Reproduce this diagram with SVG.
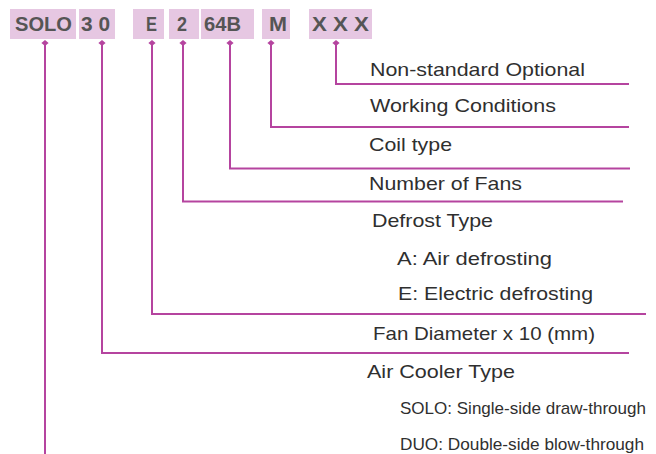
<svg xmlns="http://www.w3.org/2000/svg" width="656" height="454" viewBox="0 0 656 454">
  <defs>
    <style>
      .box { fill: #e6c7e2; }
      .code { font-family: "Liberation Sans", Arial, sans-serif; font-weight: bold; font-size: 20px; fill: #555555; }
      .lbl { font-family: "Liberation Sans", Arial, sans-serif; font-size: 19px; fill: #2f2f2f; }
      .sub { font-family: "Liberation Sans", Arial, sans-serif; font-size: 17px; fill: #2f2f2f; }
      .conn { fill: none; stroke: #b5449f; stroke-width: 2; }
    </style>
    <marker id="dot" viewBox="-4 -4 8 8" markerWidth="8" markerHeight="8" refX="0" refY="0" markerUnits="userSpaceOnUse" orient="auto">
      <path d="M0,-3.6 L3,0 L0,3.6 L-3,0 Z" fill="#b5449f"/>
    </marker>
  </defs>

  <g id="code-solo">
    <rect class="box" x="10" y="9" width="66" height="30"/>
    <text class="code" x="15" y="31" textLength="57" lengthAdjust="spacingAndGlyphs">SOLO</text>
  </g>
  <g id="code-30">
    <rect class="box" x="79" y="9" width="36" height="30"/>
    <text class="code" x="81" y="31" textLength="29" lengthAdjust="spacingAndGlyphs">3 0</text>
  </g>
  <g id="code-e">
    <rect class="box" x="133" y="9" width="31" height="30"/>
    <text class="code" x="146" y="31" textLength="11" lengthAdjust="spacingAndGlyphs">E</text>
  </g>
  <g id="code-2">
    <rect class="box" x="169" y="9" width="30" height="30"/>
    <text class="code" x="177" y="31" textLength="10" lengthAdjust="spacingAndGlyphs">2</text>
  </g>
  <g id="code-64b">
    <rect class="box" x="201" y="9" width="53" height="30"/>
    <text class="code" x="204" y="31" textLength="37" lengthAdjust="spacingAndGlyphs">64B</text>
  </g>
  <g id="code-m">
    <rect class="box" x="262" y="9" width="28" height="30"/>
    <text class="code" x="269" y="31" textLength="18" lengthAdjust="spacingAndGlyphs">M</text>
  </g>
  <g id="code-xxx">
    <rect class="box" x="309" y="9" width="63" height="30"/>
    <text class="code" x="312" y="31" textLength="57" lengthAdjust="spacingAndGlyphs">X X X</text>
  </g>

  <g id="connectors">
    <path class="conn" marker-start="url(#dot)" d="M45,43 V454"/>
    <path class="conn" marker-start="url(#dot)" d="M102,43 V353 H629"/>
    <path class="conn" marker-start="url(#dot)" d="M152,43 V314 H646"/>
    <path class="conn" marker-start="url(#dot)" d="M183,43 V201.5 H623"/>
    <path class="conn" marker-start="url(#dot)" d="M230,43 V168.5 H630"/>
    <path class="conn" marker-start="url(#dot)" d="M271,43 V127 H629"/>
    <path class="conn" marker-start="url(#dot)" d="M336,43 V84 H629"/>
  </g>

  <g id="label-nonstandard">
    <text class="lbl" x="370" y="76" textLength="215" lengthAdjust="spacingAndGlyphs">Non-standard Optional</text>
  </g>
  <g id="label-working">
    <text class="lbl" x="370" y="112" textLength="186" lengthAdjust="spacingAndGlyphs">Working Conditions</text>
  </g>
  <g id="label-coil">
    <text class="lbl" x="369" y="151" textLength="83" lengthAdjust="spacingAndGlyphs">Coil type</text>
  </g>
  <g id="label-fans">
    <text class="lbl" x="369" y="190" textLength="153" lengthAdjust="spacingAndGlyphs">Number of Fans</text>
  </g>
  <g id="label-defrost">
    <text class="lbl" x="372" y="226.5" textLength="121" lengthAdjust="spacingAndGlyphs">Defrost Type</text>
    <text class="lbl" x="397" y="265" textLength="155" lengthAdjust="spacingAndGlyphs">A: Air defrosting</text>
    <text class="lbl" x="398" y="300" textLength="195" lengthAdjust="spacingAndGlyphs">E: Electric defrosting</text>
  </g>
  <g id="label-diameter">
    <text class="lbl" x="373" y="340" textLength="222" lengthAdjust="spacingAndGlyphs">Fan Diameter x 10 (mm)</text>
  </g>
  <g id="label-type">
    <text class="lbl" x="367" y="378" textLength="148" lengthAdjust="spacingAndGlyphs">Air Cooler Type</text>
    <text class="sub" x="400" y="414" textLength="246" lengthAdjust="spacingAndGlyphs">SOLO: Single-side draw-through</text>
    <text class="sub" x="400" y="450" textLength="244" lengthAdjust="spacingAndGlyphs">DUO: Double-side blow-through</text>
  </g>
</svg>
